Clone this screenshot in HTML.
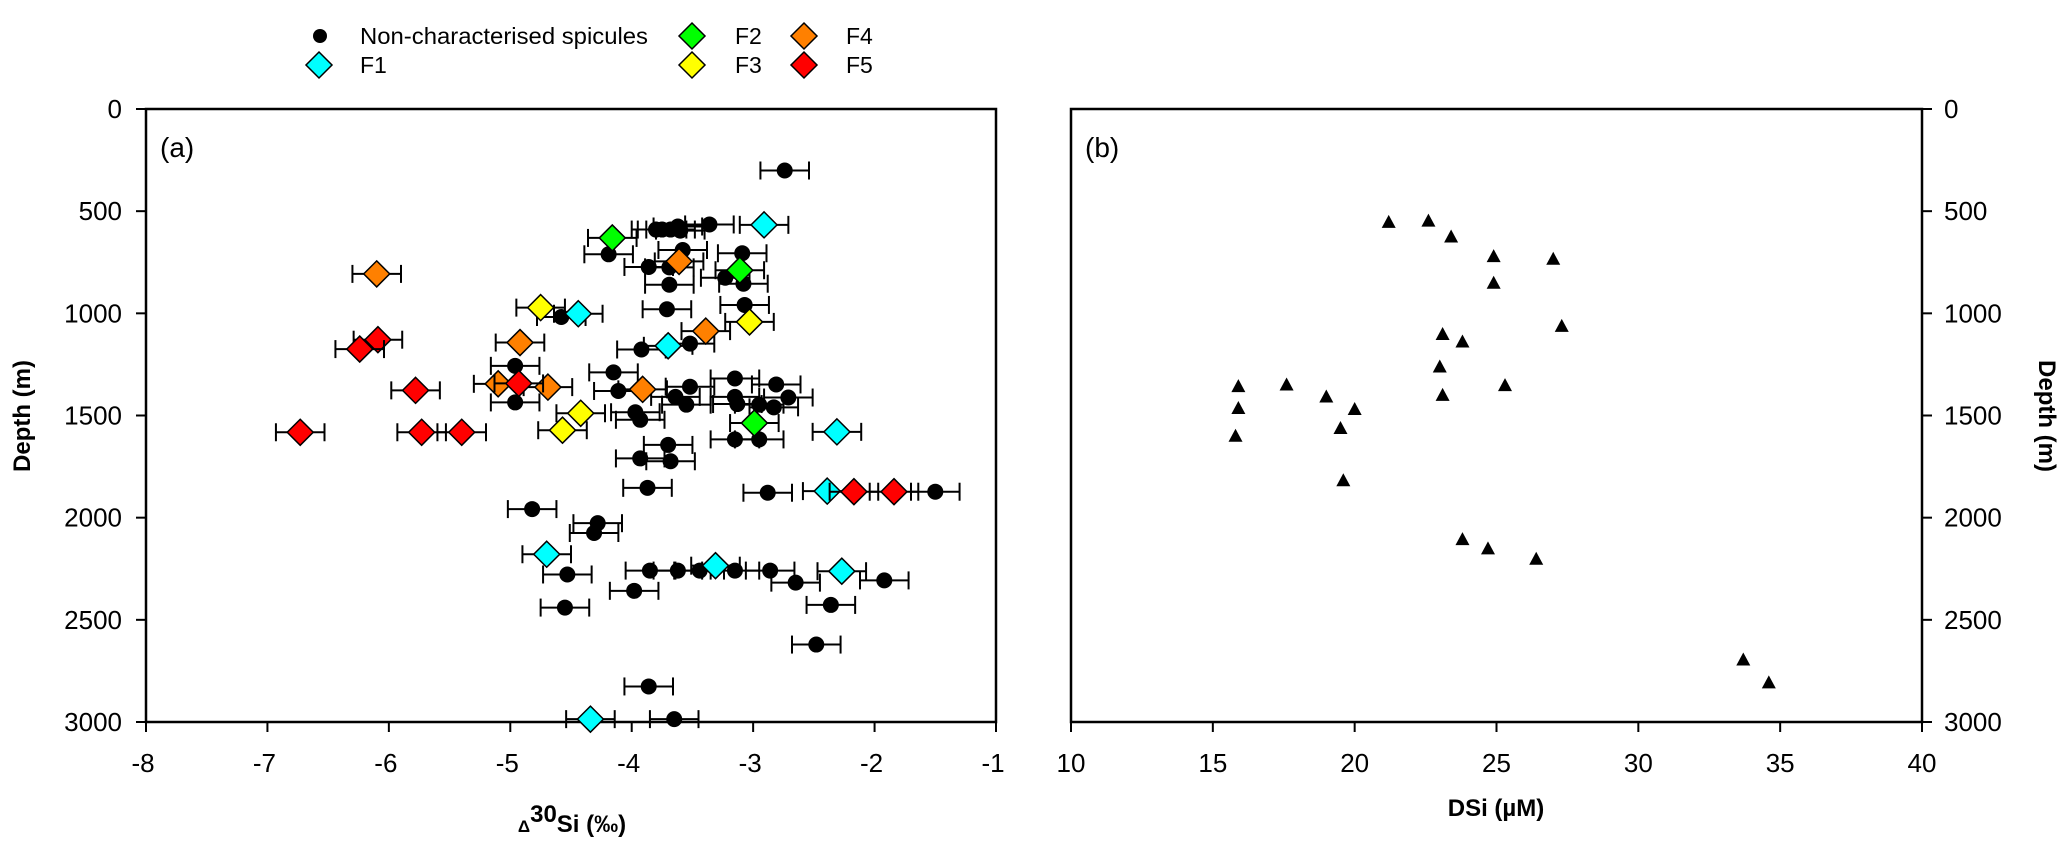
<!DOCTYPE html>
<html><head><meta charset="utf-8"><style>
body{margin:0;background:#fff}
svg{display:block;font-family:"Liberation Sans",Arial,sans-serif}
</style></head><body>
<svg id="chart" width="2067" height="853" viewBox="0 0 2067 853" xmlns="http://www.w3.org/2000/svg"></svg>
<script>
// Panel (a) data: delta30Si (permil) vs depth (m)
const ncX=[-2.74,-3.36,-3.62,-3.75,-3.68,-3.60,-3.80,-4.19,-3.58,-3.09,-3.86,-3.69,-3.23,-3.08,-3.69,-3.07,-3.71,-4.58,-3.92,-3.52,-4.96,-4.15,-4.11,-3.52,-3.15,-2.81,-3.64,-3.15,-2.71,-4.96,-3.55,-3.13,-2.95,-2.83,-3.97,-3.93,-3.15,-2.95,-3.70,-3.93,-3.68,-3.87,-2.88,-1.50,-4.82,-4.28,-4.31,-4.53,-3.85,-3.62,-3.44,-3.15,-2.86,-2.65,-1.92,-3.98,-4.55,-2.36,-2.48,-3.86,-3.65];
const ncY=[301,565,575,590,590,595,590,711,690,706,773,775,826,855,860,959,980,1018,1177,1148,1257,1289,1380,1359,1319,1348,1409,1409,1412,1436,1447,1444,1447,1460,1484,1521,1617,1617,1644,1710,1724,1854,1878,1873,1958,2027,2075,2278,2259,2259,2259,2259,2259,2318,2307,2358,2440,2427,2621,2826,2986];
const f1X=[-2.91,-4.44,-3.70,-2.31,-2.39,-4.70,-3.31,-2.27,-4.34];
const f1Y=[567,1002,1159,1580,1870,2179,2235,2262,2986];
const f2X=[-4.16,-3.11,-2.99];
const f2Y=[631,789,1537];
const f3X=[-4.75,-3.03,-4.42,-4.57];
const f3Y=[972,1042,1489,1572];
const f4X=[-6.10,-3.61,-3.39,-4.92,-5.10,-4.69,-3.91];
const f4Y=[807,746,1087,1143,1345,1361,1372];
const f5X=[-6.09,-6.24,-5.78,-4.93,-6.73,-5.73,-5.40,-2.17,-1.84];
const f5Y=[1129,1175,1377,1343,1582,1582,1582,1873,1873];
const errX=0.2;
// Panel (b) data: DSi (uM) vs depth (m)
const dsiX=[21.2,22.6,23.4,24.9,27.0,24.9,27.3,23.1,23.8,23.0,15.9,17.6,19.0,20.0,23.1,25.3,15.9,19.5,15.8,19.6,23.8,24.7,26.4,33.7,34.6];
const dsiY=[557,551,629,725,738,855,1066,1106,1143,1265,1361,1353,1412,1473,1404,1356,1468,1566,1604,1822,2110,2155,2206,2699,2811];
const xTicksA=[-8,-7,-6,-5,-4,-3,-2,-1];
const xTicksB=[10,15,20,25,30,35,40];
const yTicks=[0,500,1000,1500,2000,2500,3000];

const NS="http://www.w3.org/2000/svg";
const svg=document.getElementById('chart');
function el(tag,attrs,parent,text){const e=document.createElementNS(NS,tag);for(const k in attrs)e.setAttribute(k,attrs[k]);if(text!==undefined)e.textContent=text;(parent||svg).appendChild(e);return e;}
const A={l:146,r:996,t:109,b:722,x0:-8,x1:-1};
const B={l:1071,r:1922,t:109,b:722,x0:10,x1:40};
const yS=v=>A.t+(v/3000)*(A.b-A.t);
const xA=v=>A.l+(v-A.x0)/(A.x1-A.x0)*(A.r-A.l);
const xB=v=>B.l+(v-B.x0)/(B.x1-B.x0)*(B.r-B.l);

// frames
const fa=el('rect',{x:A.l,y:A.t,width:A.r-A.l,height:A.b-A.t,fill:'none',stroke:'#000','stroke-width':2.5});


const fb=el('rect',{x:B.l,y:B.t,width:B.r-B.l,height:B.b-B.t,fill:'none',stroke:'#000','stroke-width':2.5});



// ticks
xTicksA.forEach(v=>{const x=xA(v);el('line',{x1:x,x2:x,y1:A.b,y2:A.b+10,stroke:'#000','stroke-width':2});
const t=el('text',{x:x-3,y:772,'font-size':26,'text-anchor':'middle'},svg,String(v));

});
xTicksB.forEach(v=>{const x=xB(v);el('line',{x1:x,x2:x,y1:B.b,y2:B.b+10,stroke:'#000','stroke-width':2});
const t=el('text',{x:x,y:772,'font-size':26,'text-anchor':'middle'},svg,String(v));

});
yTicks.forEach(v=>{const y=yS(v);el('line',{x1:A.l-10,x2:A.l,y1:y,y2:y,stroke:'#000','stroke-width':2});
const t=el('text',{x:122,y:y+9,'font-size':26,'text-anchor':'end'},svg,String(v));


el('line',{x1:B.r,x2:B.r+10,y1:y,y2:y,stroke:'#000','stroke-width':2});
const t2=el('text',{x:1944,y:y+9,'font-size':26,'text-anchor':'start'},svg,String(v));

});

// titles
const la=el('text',{x:160,y:157,'font-size':28},svg,'(a)');


const lb=el('text',{x:1085,y:157,'font-size':28},svg,'(b)');


const yt=el('text',{x:0,y:0,'font-size':24,'font-weight':'bold','text-anchor':'middle',transform:'translate(30,416) rotate(-90)'},svg,'Depth (m)');


const yt2=el('text',{x:0,y:0,'font-size':24,'font-weight':'bold','text-anchor':'middle',transform:'translate(2039,416) rotate(90)'},svg,'Depth (m)');


const xt=el('text',{x:572,y:832,'font-size':24,'font-weight':'bold','text-anchor':'middle'},svg);


el('tspan',{'font-size':17},xt,'Δ');el('tspan',{dy:-10},xt,'30');el('tspan',{dy:10},xt,'Si (‰)');
const xt2=el('text',{x:1496,y:816,'font-size':24,'font-weight':'bold','text-anchor':'middle'},svg,'DSi (µM)');



// marks
function errbar(cx,cy,v){const x1=xA(v-errX),x2=xA(v+errX);
el('line',{x1:x1,x2:x2,y1:cy,y2:cy,stroke:'#000','stroke-width':2});
el('line',{x1:x1,x2:x1,y1:cy-9,y2:cy+9,stroke:'#000','stroke-width':2});
el('line',{x1:x2,x2:x2,y1:cy-9,y2:cy+9,stroke:'#000','stroke-width':2});}
function diamondPts(cx,cy,r){return `${cx},${cy-r} ${cx+r},${cy} ${cx},${cy+r} ${cx-r},${cy}`;}
ncX.forEach((v,i)=>{const cx=xA(v),cy=yS(ncY[i]);errbar(cx,cy,v);
const c=el('circle',{cx:cx,cy:cy,r:8,fill:'#000'});

});
const groups=[[f1X,f1Y,'#00ffff','f1'],[f2X,f2Y,'#00ff00','f2'],[f3X,f3Y,'#ffff00','f3'],[f4X,f4Y,'#ff8000','f4'],[f5X,f5Y,'#ff0000','f5']];
groups.forEach(g=>{g[0].forEach((v,i)=>{const cx=xA(v),cy=yS(g[1][i]);errbar(cx,cy,v);
const d=el('polygon',{points:diamondPts(cx,cy,13),fill:g[2],stroke:'#000','stroke-width':1.5});

});});
dsiX.forEach((v,i)=>{const cx=xB(v),cy=yS(dsiY[i]);
const t=el('polygon',{points:`${cx},${cy-8} ${cx+7},${cy+5} ${cx-7},${cy+5}`,fill:'#000'});

});

// legend
const lg=el('g',{});


el('circle',{cx:320,cy:36,r:7,fill:'#000'},lg);
el('text',{x:360,y:44,'font-size':23,textLength:288,lengthAdjust:'spacingAndGlyphs'},lg,'Non-characterised spicules');
const leg=[[319,65,'#00ffff','F1',360],[692,36,'#00ff00','F2',735],[692,65,'#ffff00','F3',735],[804,36,'#ff8000','F4',846],[804,65,'#ff0000','F5',846]];
leg.forEach(l=>{el('polygon',{points:diamondPts(l[0],l[1],13),fill:l[2],stroke:'#000','stroke-width':1.5},lg);
el('text',{x:l[4],y:l[1]+8,'font-size':23},lg,l[3]);});
</script>
</body></html>
